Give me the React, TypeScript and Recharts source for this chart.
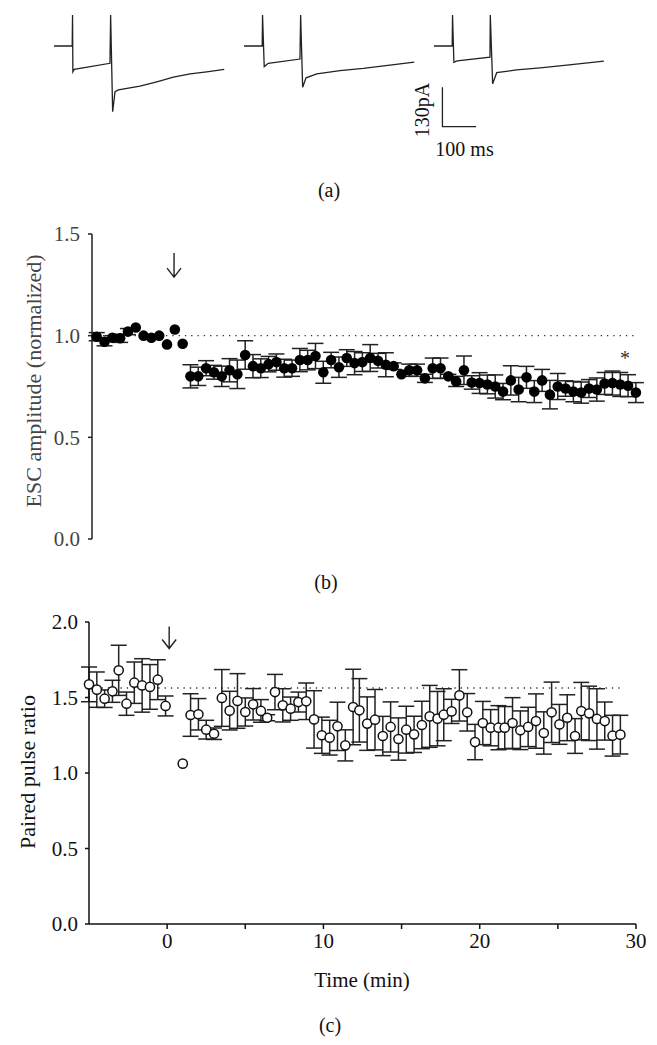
import {
  LineChart,
  Line,
  ScatterChart,
  Scatter,
  XAxis,
  YAxis,
  ErrorBar,
  ReferenceLine,
  ReferenceDot,
} from "recharts";

// (a) example traces: ms from the start of each sweep, pA relative to baseline
const trace1T = [0, 54, 55, 56, 60, 166, 168, 174, 181, 191, 255, 305, 354, 404, 453, 505];
const trace1I = [0, 0, 102, -85, -77, -57, 102, -217, -151, -145, -132, -118, -103, -92, -85, -77];
const trace2T = [0, 54, 55, 60, 72, 166, 168, 174, 184, 216, 285, 354, 433, 505];
const trace2I = [0, 0, 102, -68, -57, -43, 102, -136, -105, -92, -81, -74, -63, -53];
const trace3T = [0, 54, 55, 59, 69, 166, 167, 174, 186, 245, 315, 394, 504];
const trace3I = [0, 0, 102, -54, -49, -37, 102, -125, -88, -79, -72, -63, -50];
const SCALE_MS = 100;
const SCALE_PA = 130;

// (b) ESC amplitude, normalized
const escTime = [
  -4.5, -4, -3.5, -3, -2.5, -2, -1.5, -1, -0.5, 0, 0.5, 1, 1.5, 2, 2.5, 3, 3.5, 4, 4.5, 5,
  5.5, 6, 6.5, 7, 7.5, 8, 8.5, 9, 9.5, 10, 10.5, 11, 11.5, 12, 12.5, 13, 13.5, 14, 14.5, 15,
  15.5, 16, 16.5, 17, 17.5, 18, 18.5, 19, 19.5, 20, 20.5, 21, 21.5, 22, 22.5, 23, 23.5, 24,
  24.5, 25, 25.5, 26, 26.5, 27, 27.5, 28, 28.5, 29, 29.5, 30,
];
const escMean = [
  0.995, 0.97, 0.99, 0.987, 1.02, 1.04, 1.0, 0.99, 1.0, 0.957, 1.03, 0.96, 0.8, 0.8, 0.84,
  0.82, 0.8, 0.83, 0.81, 0.905, 0.85, 0.84, 0.86, 0.87, 0.84, 0.84, 0.88, 0.88, 0.9, 0.82,
  0.88, 0.845, 0.89, 0.865, 0.87, 0.89, 0.877, 0.857, 0.85, 0.81, 0.83, 0.83, 0.79, 0.84,
  0.84, 0.8, 0.775, 0.83, 0.77, 0.767, 0.76, 0.75, 0.725, 0.78, 0.735, 0.795, 0.725, 0.78,
  0.71, 0.75, 0.74, 0.725, 0.72, 0.74, 0.735, 0.765, 0.767, 0.76, 0.754, 0.72,
];
const escSem = [
  0.02, 0.02, 0.01, 0.02, 0.015, 0, 0, 0, 0, 0, 0, 0, 0.057, 0.045, 0.037, 0.034, 0.05,
  0.057, 0.07, 0.07, 0.057, 0.046, 0.038, 0.04, 0.044, 0.04, 0.057, 0.048, 0.062, 0.054,
  0.038, 0.05, 0.041, 0.057, 0.046, 0.066, 0.036, 0.059, 0.016, 0, 0.03, 0.03, 0.02, 0.05,
  0.05, 0.01, 0.025, 0.07, 0.033, 0.051, 0.046, 0.057, 0.04, 0.072, 0.06, 0.054, 0.054,
  0.054, 0.07, 0.064, 0.038, 0.05, 0.052, 0.044, 0.057, 0.054, 0.059, 0.059, 0.054, 0.049,
];

// (c) paired pulse ratio
const pprTime = [
  -5, -4.5, -4, -3.5, -3.1, -2.6, -2.1, -1.6, -1.1, -0.6, -0.1, 1.0, 1.5, 2.0, 2.5, 3.0,
  3.5, 4.0, 4.5, 5.0, 5.5, 6.0, 6.4, 6.9, 7.4, 7.9, 8.4, 8.9, 9.4, 9.9, 10.4, 10.9, 11.4,
  11.9, 12.3, 12.8, 13.3, 13.8, 14.3, 14.8, 15.3, 15.8, 16.3, 16.8, 17.3, 17.7, 18.2, 18.7,
  19.2, 19.7, 20.2, 20.7, 21.2, 21.6, 22.1, 22.6, 23.1, 23.6, 24.1, 24.6, 25.1, 25.6, 26.1,
  26.5, 27.0, 27.5, 28.0, 28.5, 29.0,
];
const pprMean = [
  1.587, 1.552, 1.492, 1.541, 1.68, 1.459, 1.598, 1.58, 1.57, 1.618, 1.444, 1.062, 1.384,
  1.389, 1.287, 1.26, 1.497, 1.413, 1.477, 1.404, 1.455, 1.411, 1.366, 1.536, 1.448, 1.426,
  1.47, 1.475, 1.355, 1.25, 1.234, 1.309, 1.183, 1.437, 1.415, 1.327, 1.353, 1.245, 1.305,
  1.225, 1.287, 1.256, 1.318, 1.375, 1.36, 1.386, 1.408, 1.514, 1.402, 1.205, 1.331, 1.3,
  1.3, 1.3, 1.331, 1.283, 1.305, 1.344, 1.265, 1.402, 1.322, 1.366, 1.245, 1.41, 1.395,
  1.358, 1.344, 1.247, 1.254,
];
const pprSem = [
  0.115, 0.117, 0.058, 0.073, 0.166, 0.077, 0.137, 0.177, 0.148, 0.132, 0.066, 0, 0.141,
  0.104, 0.062, 0.038, 0.188, 0.128, 0.181, 0.093, 0.104, 0.075, 0.02, 0.117, 0.11, 0.077,
  0.066, 0.121, 0.19, 0.12, 0.115, 0.16, 0.103, 0.25, 0.21, 0.177, 0.2, 0.13, 0.166, 0.14,
  0.155, 0.12, 0.157, 0.205, 0.18, 0.172, 0.08, 0.17, 0.124, 0.117, 0.143, 0.12, 0.146,
  0.14, 0.168, 0.128, 0.13, 0.18, 0.14, 0.2, 0.132, 0.152, 0.115, 0.19, 0.18, 0.2, 0.126,
  0.135, 0.128,
];
const pprBaseline = 1.563;

const FONT = "'Liberation Serif', 'Times New Roman', serif";
const INK = "#111";

const toRows = (t: number[], v: number[]) => t.map((x, i) => ({ t: x, v: v[i] }));
const toErrRows = (t: number[], v: number[], e: number[]) =>
  t.map((x, i) => ({ t: x, v: v[i], e: e[i] }));

const DownArrow = ({ cx, cy, len }: { cx: number; cy: number; len: number }) => (
  <path
    d={`M${cx},${cy - len / 2} L${cx},${cy + len / 2} M${cx - 7},${cy + len / 2 - 9} L${cx},${cy + len / 2} L${cx + 7},${cy + len / 2 - 9}`}
    stroke="#222"
    strokeWidth={1.4}
    fill="none"
  />
);

function Trace({ t, i, left, bar }: { t: number[]; i: number[]; left: number; bar?: boolean }) {
  const barRows = [
    { t: 25, v: -136 },
    { t: 25, v: -136 - SCALE_PA },
    { t: 25 + SCALE_MS, v: -136 - SCALE_PA },
  ];
  return (
    <div style={{ position: "absolute", left, top: 0 }}>
      <LineChart width={180} height={135} margin={{ top: 0, right: 0, bottom: 0, left: 0 }}>
        <XAxis type="number" dataKey="t" domain={[0, 534]} hide />
        <YAxis type="number" dataKey="v" domain={[-293.6, 151.8]} hide />
        <Line
          data={toRows(t, i)}
          dataKey="v"
          type="linear"
          stroke="#222"
          strokeWidth={1.3}
          dot={false}
          isAnimationActive={false}
        />
        {bar && (
          <Line
            data={barRows}
            dataKey="v"
            type="linear"
            stroke="#222"
            strokeWidth={1.3}
            dot={false}
            isAnimationActive={false}
          />
        )}
      </LineChart>
    </div>
  );
}

export default function App() {
  const escRows = toErrRows(escTime, escMean, escSem);
  const pprRows = toErrRows(pprTime, pprMean, pprSem);
  const tickB = { fill: "#444", fontSize: 21, fontFamily: FONT };
  const tickC = { fill: INK, fontSize: 21, fontFamily: FONT };

  return (
    <div style={{ position: "relative", width: 657, height: 1045, background: "#fff" }}>
      <style>{`body { margin: 0; }`}</style>

      <Trace t={trace1T} i={trace1I} left={54} />
      <Trace t={trace2T} i={trace2I} left={244} />
      <Trace t={trace3T} i={trace3I} left={434} bar />

      <div style={{ position: "absolute", left: 0, top: 200 }}>
        <ScatterChart width={657} height={360} margin={{ top: 34, right: 18, bottom: 21, left: 0 }}>
          <XAxis type="number" dataKey="t" domain={[-4.8, 30.2]} hide />
          <YAxis
            type="number"
            dataKey="v"
            domain={[0, 1.5]}
            ticks={[0, 0.5, 1, 1.5]}
            tickFormatter={(v: number) => v.toFixed(1)}
            width={92}
            tick={tickB}
            tickSize={4}
            tickMargin={8}
            axisLine={{ stroke: "#222", strokeWidth: 1.5 }}
            tickLine={{ stroke: "#222", strokeWidth: 1.5 }}
          />
          <ReferenceLine
            segment={[{ x: -4.5, y: 1 }, { x: 30, y: 1 }]}
            stroke="#333"
            strokeWidth={1.3}
            strokeDasharray="1.3 5"
          />
          <ReferenceDot
            x={0.45}
            y={1.347}
            r={0}
            shape={(p: any) => <DownArrow cx={p.cx} cy={p.cy} len={24} />}
          />
          <ReferenceDot
            x={29.3}
            y={0.895}
            r={0}
            shape={(p: any) => (
              <text x={p.cx} y={p.cy + 8} textAnchor="middle" fontFamily={FONT} fontSize={20} fill="#333">
                *
              </text>
            )}
          />
          <Scatter
            data={escRows}
            dataKey="v"
            isAnimationActive={false}
            shape={(p: any) => <circle cx={p.cx} cy={p.cy} r={5.3} fill="#000" />}
          >
            <ErrorBar dataKey="e" direction="y" width={8} stroke="#222" strokeWidth={1.5} />
          </Scatter>
        </ScatterChart>
      </div>

      <div style={{ position: "absolute", left: 0, top: 600 }}>
        <ScatterChart width={657} height={364} margin={{ top: 22, right: 21, bottom: 0, left: 0 }}>
          <XAxis
            type="number"
            dataKey="t"
            domain={[-5, 30]}
            ticks={[0, 5, 10, 15, 20, 25, 30]}
            interval={0}
            tickFormatter={(v: number) => (v % 10 === 0 ? String(v) : "")}
            height={40}
            tick={tickC}
            tickSize={5}
            tickMargin={4}
            axisLine={{ stroke: INK, strokeWidth: 1.5 }}
            tickLine={{ stroke: INK, strokeWidth: 1.5 }}
          />
          <YAxis
            type="number"
            dataKey="v"
            domain={[0, 2]}
            ticks={[0, 0.5, 1, 1.5, 2]}
            tickFormatter={(v: number) => v.toFixed(1)}
            width={89}
            tick={tickC}
            tickSize={4}
            tickMargin={7}
            axisLine={{ stroke: INK, strokeWidth: 1.5 }}
            tickLine={{ stroke: INK, strokeWidth: 1.5 }}
          />
          <ReferenceLine
            segment={[{ x: -5, y: pprBaseline }, { x: 29, y: pprBaseline }]}
            stroke="#333"
            strokeWidth={1.3}
            strokeDasharray="1.3 5"
          />
          <ReferenceDot
            x={0.13}
            y={1.897}
            r={0}
            shape={(p: any) => <DownArrow cx={p.cx} cy={p.cy} len={22} />}
          />
          <Scatter
            data={pprRows}
            dataKey="v"
            isAnimationActive={false}
            shape={(p: any) => <g />}
          >
            <ErrorBar dataKey="e" direction="y" width={8} stroke="#222" strokeWidth={1.5} />
          </Scatter>
          <Scatter
            data={pprRows}
            dataKey="v"
            isAnimationActive={false}
            shape={(p: any) => (
              <circle cx={p.cx} cy={p.cy} r={4.6} fill="#fff" stroke="#111" strokeWidth={1.5} />
            )}
          />
        </ScatterChart>
      </div>

      <svg
        width={657}
        height={1045}
        style={{ position: "absolute", left: 0, top: 0, pointerEvents: "none" }}
        fontFamily={FONT}
      >
        <text x={329} y={190} textAnchor="middle" dominantBaseline="central" fontSize={20} fill={INK}>
          (a)
        </text>
        <text
          x={421.7}
          y={110}
          textAnchor="middle"
          dominantBaseline="central"
          fontSize={20}
          fill={INK}
          transform="rotate(-90 421.7 110)"
        >
          130pA
        </text>
        <text x={464.5} y={149} textAnchor="middle" dominantBaseline="central" fontSize={20} fill={INK}>
          100 ms
        </text>
        <text
          x={33}
          y={381}
          textAnchor="middle"
          dominantBaseline="central"
          fontSize={22}
          fill="#444"
          transform="rotate(-90 33 381)"
        >
          ESC amplitude (normalized)
        </text>
        <text x={326} y={582} textAnchor="middle" dominantBaseline="central" fontSize={20} fill={INK}>
          (b)
        </text>
        <text
          x={27}
          y={772}
          textAnchor="middle"
          dominantBaseline="central"
          fontSize={22}
          fill={INK}
          transform="rotate(-90 27 772)"
        >
          Paired pulse ratio
        </text>
        <text x={362} y={980} textAnchor="middle" dominantBaseline="central" fontSize={21} fill={INK}>
          Time (min)
        </text>
        <text x={330} y={1025} textAnchor="middle" dominantBaseline="central" fontSize={20} fill={INK}>
          (c)
        </text>
      </svg>
    </div>
  );
}
